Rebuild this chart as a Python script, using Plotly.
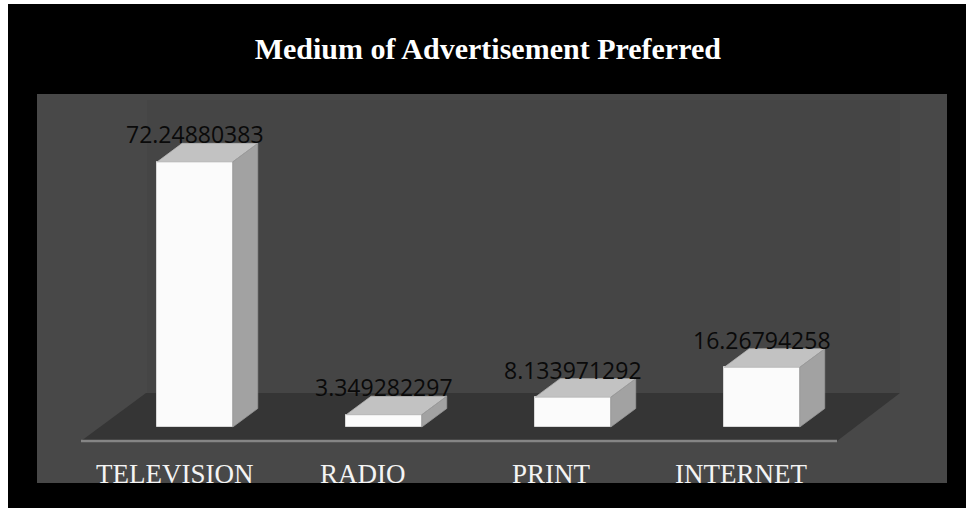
import plotly.graph_objects as go

# ---- data ----
categories = ["TELEVISION", "RADIO", "PRINT", "INTERNET"]
values = [72.24880383, 3.349282297, 8.133971292, 16.26794258]
value_labels = ["72.24880383", "3.349282297", "8.133971292", "16.26794258"]

# ---- canvas / plot-area geometry (pixels) ----
W, H = 966, 508
PL, PR, PT, PB = 37, 947, 94, 483          # gray plot area
X_RANGE = [-0.836, 3.979]
Y_RANGE = [-15.26, 90.74]

BAR_W = 0.40          # front-face width (x units)
DX, DY = 0.132, 5.04  # oblique depth offset (x units, y units)

FRONT = "#fbfbfb"
TOP = "#c2c2c2"
SIDE = "#a2a2a2"


def px_x(px):
    """pixel column -> x data units"""
    return X_RANGE[0] + (px - PL) / (PR - PL) * (X_RANGE[1] - X_RANGE[0])


def px_y(py):
    """pixel row -> y data units"""
    return Y_RANGE[1] - (py - PT) / (PB - PT) * (Y_RANGE[1] - Y_RANGE[0])


def paper_x(px):
    return (px - PL) / (PR - PL)


def paper_y(py):
    return (PB - py) / (PB - PT)


xs = list(range(len(categories)))

fig = go.Figure()

# front faces
fig.add_trace(go.Bar(
    x=xs, y=values, width=BAR_W,
    marker=dict(color=FRONT, line=dict(color="#d8d8d8", width=1)),
    hoverinfo="skip", showlegend=False,
))

# top faces and side faces built from the values
top_x, top_y, side_x, side_y = [], [], [], []
for i, v in zip(xs, values):
    l, r = i - BAR_W / 2, i + BAR_W / 2
    top_x += [l, l + DX, r + DX, r, l, None]
    top_y += [v, v + DY, v + DY, v, v, None]
    side_x += [r, r + DX, r + DX, r, r, None]
    side_y += [0, DY, v + DY, v, 0, None]

fig.add_trace(go.Scatter(x=top_x, y=top_y, mode="lines", fill="toself",
                         fillcolor=TOP, line=dict(color="#b4b4b4", width=0.8),
                         hoverinfo="skip", showlegend=False))
fig.add_trace(go.Scatter(x=side_x, y=side_y, mode="lines", fill="toself",
                         fillcolor=SIDE, line=dict(color="#989898", width=0.8),
                         hoverinfo="skip", showlegend=False))

# value labels sit on the back edge of each bar's top
for i, v, t in zip(xs, values, value_labels):
    fig.add_annotation(x=i, y=v + DY, text=t, showarrow=False,
                       xanchor="center", yanchor="bottom", yshift=-9,
                       font=dict(family="Open Sans", size=23, color="#0a0a0a"))

# category labels under the floor
for i, c in zip(xs, categories):
    fig.add_annotation(x=i, y=0, yref="paper", text=c, showarrow=False,
                       xanchor="center", yanchor="bottom", xshift=-21, yshift=-8,
                       font=dict(family="Liberation Serif", size=27, color="#f4f4f4"))

# back wall, floor and front edge
shapes = [
    dict(type="rect", layer="below", xref="x", yref="y",
         x0=px_x(147), x1=px_x(900), y0=px_y(393), y1=px_y(100),
         fillcolor="#454545", line=dict(width=0)),
    dict(type="path", layer="below", xref="x", yref="y",
         path=(f"M {px_x(146)},{px_y(393)} L {px_x(900)},{px_y(393)} "
               f"L {px_x(837)},{px_y(441)} L {px_x(81)},{px_y(441)} Z"),
         fillcolor="#353535", line=dict(width=0)),
    dict(type="line", layer="below", xref="x", yref="y",
         x0=px_x(81), x1=px_x(837), y0=px_y(441), y1=px_y(441),
         line=dict(color="#858585", width=2.5)),
    # white page edges around the black frame
    dict(type="rect", xref="paper", yref="paper",
         x0=paper_x(0), x1=paper_x(8), y0=paper_y(H), y1=paper_y(0),
         fillcolor="white", line=dict(width=0)),
    dict(type="rect", xref="paper", yref="paper",
         x0=paper_x(0), x1=paper_x(W), y0=paper_y(4), y1=paper_y(0),
         fillcolor="white", line=dict(width=0)),
]

fig.update_layout(
    width=W, height=H,
    margin=dict(l=PL, r=W - PR, t=PT, b=H - PB, pad=0),
    paper_bgcolor="black",
    plot_bgcolor="#484848",
    shapes=shapes,
    title=dict(text="<b>Medium of Advertisement Preferred</b>",
               x=0.505, xref="container", xanchor="center",
               y=1 - 48 / H, yref="container", yanchor="middle",
               font=dict(family="Liberation Serif", size=30, color="white")),
    xaxis=dict(range=X_RANGE, visible=False, fixedrange=True),
    yaxis=dict(range=Y_RANGE, visible=False, fixedrange=True),
    bargap=0,
    showlegend=False,
)

fig.write_html("out.html", config={"displayModeBar": False})
